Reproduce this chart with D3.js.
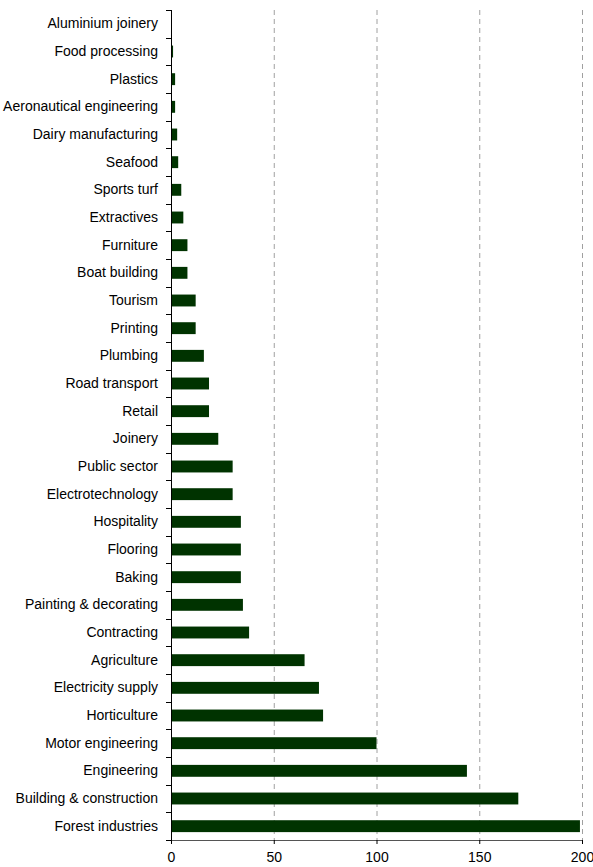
<!DOCTYPE html>
<head>
  <meta charset="utf-8" />
  <script src="https://d3js.org/d3.v7.min.js"></script>
  <style>
    body { margin: 0; background: #fff; }
    text { font-family: "Liberation Sans", Arial, sans-serif; fill: #000; }
  </style>
</head>
<body>
<script>
  const categories = [
    "Aluminium joinery", "Food processing", "Plastics", "Aeronautical engineering",
    "Dairy manufacturing", "Seafood", "Sports turf", "Extractives", "Furniture",
    "Boat building", "Tourism", "Printing", "Plumbing", "Road transport", "Retail",
    "Joinery", "Public sector", "Electrotechnology", "Hospitality", "Flooring",
    "Baking", "Painting & decorating", "Contracting", "Agriculture",
    "Electricity supply", "Horticulture", "Motor engineering", "Engineering",
    "Building & construction", "Forest industries"
  ];
  const values = [
    0, 1, 2, 2,
    3, 3.5, 5, 6, 8,
    8, 12, 12, 16, 18.5, 18.5,
    23, 30, 30, 34, 34,
    34, 35, 38, 65,
    72, 74, 100, 144,
    169, 199
  ];
  const xTicks = [0, 50, 100, 150, 200];

  const width = 593, height = 867;
  const margin = { top: 10, right: 11, bottom: 27, left: 171 };
  const innerW = width - margin.left - margin.right;
  const innerH = height - margin.top - margin.bottom;

  const svg = d3.select("body").append("svg")
    .attr("width", width)
    .attr("height", height);

  const g = svg.append("g")
    .attr("transform", `translate(${margin.left},${margin.top})`);

  const x = d3.scaleLinear().domain([0, 200]).range([0, innerW]);
  const y = d3.scaleBand()
    .domain(categories)
    .range([0, innerH])
    .paddingInner(0.57)
    .paddingOuter(0.285);

  // dashed gridlines
  g.append("g")
    .selectAll("line")
    .data(xTicks.filter((d) => d > 0))
    .join("line")
    .attr("x1", (d) => x(d) + 0.5)
    .attr("x2", (d) => x(d) + 0.5)
    .attr("y1", 0)
    .attr("y2", innerH)
    .attr("stroke", "#a0a0a0")
    .attr("stroke-width", 1)
    .attr("stroke-dasharray", "5,4");

  // bars
  g.append("g")
    .selectAll("rect")
    .data(categories)
    .join("rect")
    .attr("x", 0)
    .attr("y", (d) => y(d))
    .attr("width", (d, i) => x(values[i]))
    .attr("height", y.bandwidth())
    .attr("fill", "#003300");

  // category labels
  const yAxis = g.append("g")
    .call(d3.axisLeft(y).tickSize(0).tickPadding(13));
  yAxis.select(".domain").remove();
  yAxis.selectAll("text")
    .style("font-family", '"Liberation Sans", Arial, sans-serif')
    .style("font-size", "14px")
    .attr("fill", "#111");

  // y tick marks on band boundaries
  const step = y.step();
  g.append("g")
    .selectAll("line")
    .data(d3.range(categories.length + 1))
    .join("line")
    .attr("x1", -5)
    .attr("x2", 0)
    .attr("y1", (i) => Math.round(i * step) + 0.5)
    .attr("y2", (i) => Math.round(i * step) + 0.5)
    .attr("stroke", "#000");

  g.append("line")
    .attr("x1", 0.5).attr("x2", 0.5)
    .attr("y1", 0).attr("y2", innerH)
    .attr("stroke", "#000");

  // x axis
  const xAxis = g.append("g")
    .attr("transform", `translate(0,${innerH})`)
    .call(d3.axisBottom(x).tickValues(xTicks).tickSize(4).tickPadding(8));
  xAxis.select(".domain").attr("stroke", "#555");
  xAxis.selectAll(".tick line").attr("stroke", "#000");
  xAxis.selectAll("text")
    .style("font-family", '"Liberation Sans", Arial, sans-serif')
    .style("font-size", "14px")
    .attr("fill", "#111");
</script>
</body>
